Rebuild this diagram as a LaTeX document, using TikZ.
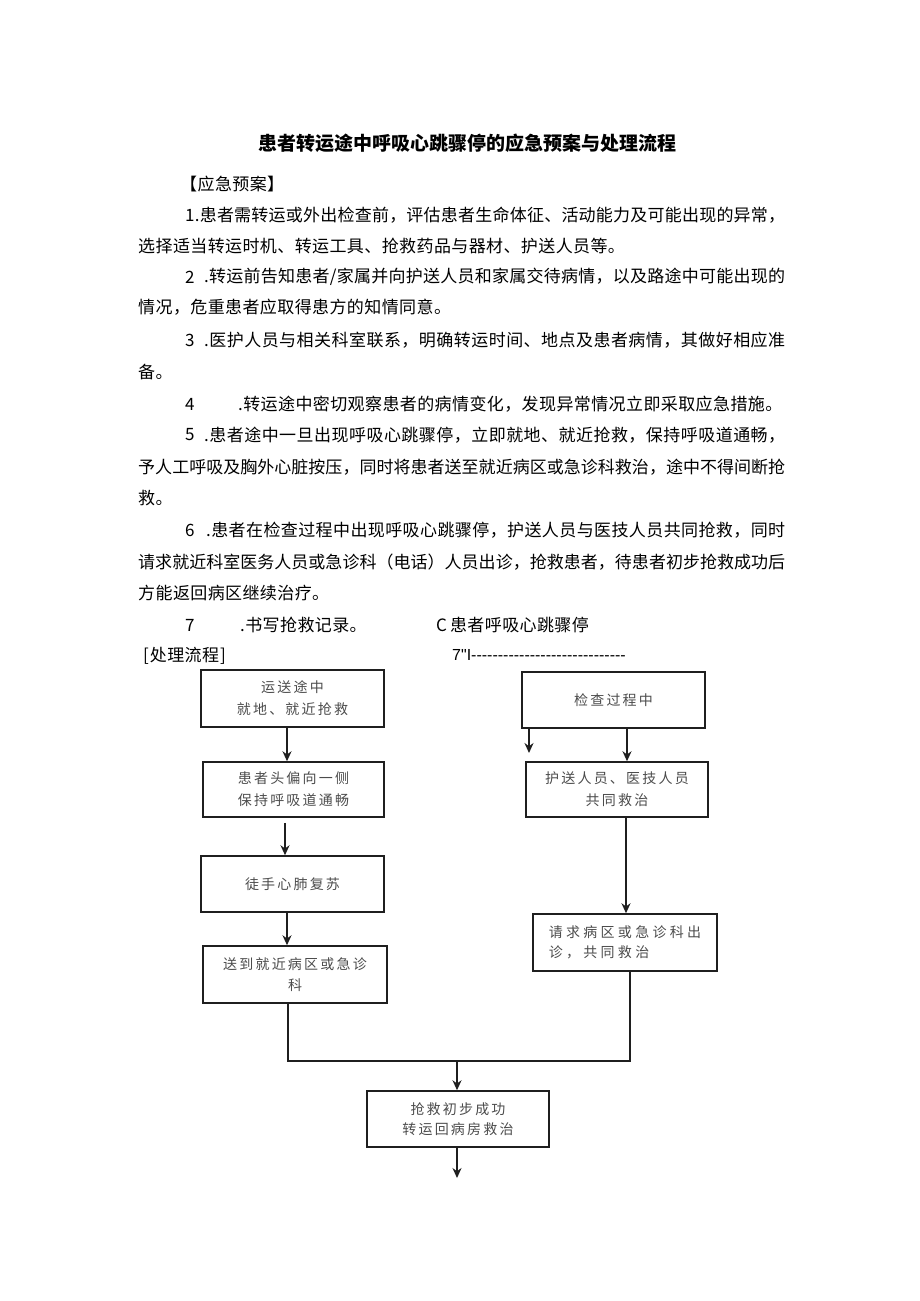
\documentclass[tikz,border=0pt]{standalone}
\usepackage{fontspec}
\setmainfont{Noto Sans CJK SC}
\newfontfamily\latf{Liberation Sans}[Ligatures=TeXOff]
\usetikzlibrary{arrows.meta}
\newskip\spamt
\def\spglue{\hskip\spamt\relax}
\def\spreadaux#1{\ifx#1\relax\else#1\spglue\expandafter\spreadaux\fi}
\newcommand\spreadtxt[1]{\spreadaux#1\relax\unskip}
\newcommand\jline[2]{\hbox to #1{\spamt=0pt plus 1fil\relax\spreadtxt{#2}}}
\newcommand\nline[1]{\hbox{\spamt=0.4pt\relax\spreadtxt{#1}}}
\newcommand\bx[1]{\hbox{\spamt=2.2pt\relax\spreadtxt{#1}}}
\newcommand\bxw[1]{\hbox{\spamt=3.3pt\relax\spreadtxt{#1}}}
\def\dsh{-\kern0pt}
\def\dshs{\dsh\dsh\dsh\dsh\dsh\dsh\dsh\dsh\dsh}
\tikzset{
  body/.style={anchor=west, inner sep=0pt, font=\fontsize{17}{20}\selectfont, text=black},
  fbox/.style={draw=black!88, line width=1.5pt, inner sep=0pt, align=center,
     font=\fontsize{14}{22}\selectfont, text=black!70},
  arr/.style={draw=black!88, line width=1.5pt, -{Stealth[length=10pt,width=9pt]}},
  conn/.style={draw=black!88, line width=1.5pt},
}
\begin{document}
\begin{tikzpicture}[x=1pt,y=-1pt]
\useasboundingbox[fill=white] (0,0) rectangle (920,1301);
% title
\node[inner sep=0pt, font=\fontsize{19}{24}\selectfont\bfseries] (title) at (461.5,143) {\jline{407pt}{患者转运途中呼吸心跳骤停的应急预案与处理流程}};
% body text
\node[body] (h1) at (180,184) {\nline{【应急预案】}};
\node[body] (l1) at (185,215) {\jline{600pt}{1.患者需转运或外出检查前，评估患者生命体征、活动能力及可能出现的异常，}};
\node[body] (l2) at (138,246) {\nline{选择适当转运时机、转运工具、抢救药品与器材、护送人员等。}};
\node[body] (n2) at (185,277) {2};
\node[body] (l3) at (204,277) {\jline{581pt}{.转运前告知患者/家属并向护送人员和家属交待病情，以及路途中可能出现的}};
\node[body] (l4) at (138,307) {\nline{情况，危重患者应取得患方的知情同意。}};
\node[body] (n3) at (185,340) {3};
\node[body] (l5) at (204,340) {\jline{581pt}{.医护人员与相关科室联系，明确转运时间、地点及患者病情，其做好相应准}};
\node[body] (l6) at (138,372) {\nline{备。}};
\node[body] (n4) at (185,404) {4};
\node[body] (l7) at (238,404) {\nline{.转运途中密切观察患者的病情变化，发现异常情况立即采取应急措施。}};
\node[body] (n5) at (185,435) {5};
\node[body] (l8) at (204,435) {\jline{581pt}{.患者途中一旦出现呼吸心跳骤停，立即就地、就近抢救，保持呼吸道通畅，}};
\node[body] (l9) at (138,467) {\jline{647pt}{予人工呼吸及胸外心脏按压，同时将患者送至就近病区或急诊科救治，途中不得间断抢}};
\node[body] (l10) at (138,498) {\nline{救。}};
\node[body] (n6) at (185,530) {6};
\node[body] (l11) at (206,530) {\jline{579pt}{.患者在检查过程中出现呼吸心跳骤停，护送人员与医技人员共同抢救，同时}};
\node[body] (l12) at (138,562) {\jline{647pt}{请求就近科室医务人员或急诊科（电话）人员出诊，抢救患者，待患者初步抢救成功后}};
\node[body] (l13) at (138,593) {\nline{方能返回病区继续治疗。}};
\node[body] (n7) at (185,625) {7};
\node[body] (l14) at (240,625) {\nline{.书写抢救记录。}};
\node[body] (c1) at (436,625) {C\hskip3pt\nline{患者呼吸心跳骤停}};
\node[body] (h2) at (143,656) {[\hskip1pt\nline{处理流程}\hskip1pt]};
\node[body, font=\fontsize{16}{20}\latf] (c2) at (452,655) {7"I\dshs\dshs\dshs\dsh\dsh};
% flowchart boxes
\node[fbox, minimum width=183pt, minimum height=57pt] (A) at (292.5,698.5) {\bx{运送途中}\\\bx{就地、就近抢救}};
\node[fbox, minimum width=183pt, minimum height=56pt] (B) at (613.5,700) {\bx{检查过程中}};
\node[fbox, minimum width=181pt, minimum height=55pt] (C) at (293.5,789.5) {\bx{患者头偏向一侧}\\\bx{保持呼吸道通畅}};
\node[fbox, minimum width=183pt, minimum height=56pt] (D) at (292.5,884) {\bx{徒手心肺复苏}};
\node[fbox, minimum width=184pt, minimum height=57pt, font=\fontsize{14}{21}\selectfont] (E) at (295,974.5) {\bx{送到就近病区或急诊}\\\bx{科}};
\node[fbox, minimum width=182pt, minimum height=55pt] (F) at (617,789.5) {\bx{护送人员、医技人员}\\\bx{共同救治}};
\node[fbox, minimum width=184pt, minimum height=57pt, align=left, font=\fontsize{14}{20}\selectfont] (G) at (625,942.5) {\bxw{请求病区或急诊科出}\\\bxw{诊，共同救治}};
\node[fbox, minimum width=182pt, minimum height=56pt, font=\fontsize{14}{20}\selectfont] (H) at (458,1119) {\bx{抢救初步成功}\\\bx{转运回病房救治}};
% connectors
\coordinate (bl) at (529,753);
\coordinate (jl) at (288,1061);
\coordinate (jr) at (630,1061);
\coordinate (jm) at (457,1061);
\coordinate (hend) at (457,1178);
\draw[arr] (A.south -| 287,0) -- (C.north -| 287,0);
\draw[arr] ([yshift=-5pt]C.south -| 285,0) -- (D.north -| 285,0);
\draw[arr] (D.south -| 287,0) -- (E.north -| 287,0);
\draw[arr] (B.south -| bl) -- (bl);
\draw[arr] (B.south -| 627,0) -- (F.north -| 627,0);
\draw[arr] (F.south -| 626,0) -- (G.north -| 626,0);
\draw[conn] (E.south -| jl) -- (jl) -- (jr) -- (G.south -| jr);
\draw[arr] (jm) -- (H.north -| jm);
\draw[arr] (H.south -| hend) -- (hend);
\end{tikzpicture}
\end{document}
